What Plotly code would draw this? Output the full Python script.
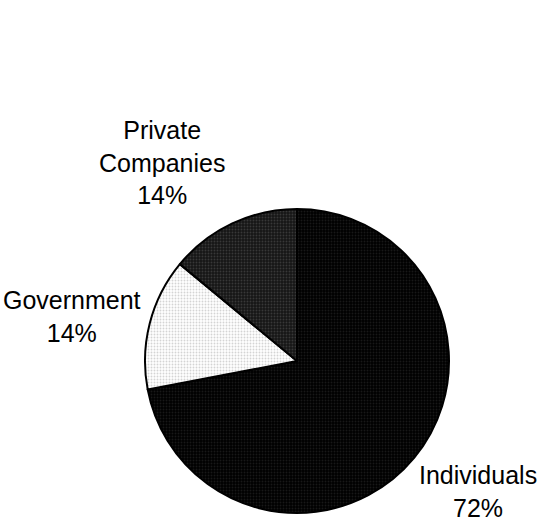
import plotly.graph_objects as go

labels = ["Individuals", "Government", "Private Companies"]
display_labels = ["Individuals", "Government", "Private<br>Companies"]
values = [72, 14, 14]
colors = ["#000000", "#ffffff", "#161616"]
pattern_fg = ["#181818", "#d4d4d4", "#383838"]

W, H = 544, 523
# label anchor positions in pixels (center of text block)
label_pos = [(478, 491), (72, 316), (162, 162)]

total = sum(values)
fig = go.Figure()
fig.add_trace(go.Pie(
    labels=labels,
    values=values,
    sort=False,
    direction="clockwise",
    rotation=0,
    textinfo="none",
    hoverinfo="label+percent",
    showlegend=False,
    marker=dict(
        colors=colors,
        line=dict(color="black", width=2),
        pattern=dict(shape=".", fgcolor=pattern_fg, bgcolor=colors, size=3, solidity=0.3),
    ),
    domain=dict(x=[145 / W, 449 / W], y=[1 - 513 / H, 1 - 209 / H]),
))

for lab, v, (px, py) in zip(display_labels, values, label_pos):
    fig.add_annotation(
        x=px / W, y=1 - py / H, xref="paper", yref="paper",
        text=f"{lab}<br>{round(100 * v / total)}%",
        showarrow=False, xanchor="center", yanchor="middle", align="center",
        font=dict(family="Liberation Sans, Arial, sans-serif", size=25, color="black"),
    )

fig.update_layout(
    width=W, height=H,
    margin=dict(l=0, r=0, t=0, b=0),
    paper_bgcolor="white", plot_bgcolor="white",
)
fig.write_html("out.html")
